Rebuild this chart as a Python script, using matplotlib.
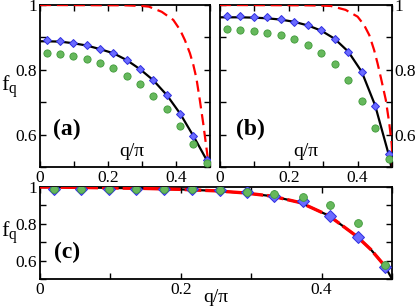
import numpy as np
import matplotlib
matplotlib.use("Agg")
import matplotlib.pyplot as plt
from matplotlib.ticker import MultipleLocator, FixedLocator, FixedFormatter

plt.rcParams['font.family'] = ['Liberation Serif', 'DejaVu Serif']
plt.rcParams['mathtext.fontset'] = 'custom'
plt.rcParams['mathtext.rm'] = 'Liberation Serif'

# ---- data ----
q_pts = [0.0196, 0.0588, 0.098, 0.137, 0.176, 0.216, 0.255, 0.294, 0.333, 0.373, 0.412, 0.451, 0.490]

# panel (a)
a_blue = [0.891, 0.889, 0.883, 0.877, 0.865, 0.852, 0.830, 0.802, 0.768, 0.722, 0.665, 0.596, 0.522]
a_green = [0.851, 0.848, 0.842, 0.833, 0.821, 0.805, 0.782, 0.755, 0.720, 0.678, 0.627, 0.572, 0.512]
a_line_q = [0.0, 0.0196, 0.0588, 0.098, 0.137, 0.176, 0.216, 0.255, 0.294, 0.333, 0.373, 0.412, 0.451, 0.490, 0.5]
a_line_f = [0.888, 0.888, 0.887, 0.882, 0.875, 0.864, 0.851, 0.830, 0.802, 0.768, 0.722, 0.665, 0.596, 0.522, 0.497]
a_red_q = [0.0, 0.25, 0.30, 0.320, 0.358, 0.392, 0.412, 0.426, 0.441, 0.451, 0.460, 0.470, 0.480, 0.489, 0.497]
a_red_f = [1.0, 0.999, 0.997, 0.995, 0.979, 0.954, 0.923, 0.892, 0.851, 0.815, 0.774, 0.707, 0.635, 0.563, 0.50]

# panel (b)
b_blue = [0.966, 0.966, 0.964, 0.962, 0.957, 0.948, 0.938, 0.922, 0.896, 0.856, 0.794, 0.688, 0.540]
b_green = [0.925, 0.923, 0.920, 0.915, 0.906, 0.895, 0.877, 0.851, 0.817, 0.769, 0.705, 0.621, 0.526]
b_line_q = [0.0, 0.0588, 0.098, 0.137, 0.176, 0.216, 0.255, 0.294, 0.333, 0.373, 0.412, 0.451, 0.490, 0.5]
b_line_f = [0.962, 0.962, 0.961, 0.959, 0.955, 0.948, 0.937, 0.921, 0.896, 0.856, 0.794, 0.690, 0.540, 0.49]
b_red_q = [0.0, 0.25, 0.30, 0.322, 0.365, 0.400, 0.419, 0.434, 0.448, 0.458, 0.468, 0.482, 0.492, 0.499, 0.503]
b_red_f = [1.0, 0.999, 0.998, 0.997, 0.985, 0.964, 0.938, 0.907, 0.861, 0.820, 0.774, 0.707, 0.635, 0.573, 0.50]

# panel (c)
c_blue = [0.990, 0.990, 0.990, 0.990, 0.990, 0.990, 0.984, 0.971, 0.953, 0.924, 0.842, 0.730, 0.564]
c_green = [0.990, 0.990, 0.990, 0.990, 0.990, 0.990, 0.984, 0.975, 0.962, 0.944, 0.902, 0.803, 0.576]
c_line_q = [0.0, 0.05, 0.10, 0.15, 0.20, 0.25, 0.29, 0.33, 0.37, 0.41, 0.45, 0.47, 0.49, 0.5]
c_line_f = [1.0, 0.998, 0.995, 0.992, 0.987, 0.979, 0.968, 0.950, 0.915, 0.845, 0.732, 0.660, 0.570, 0.50]
c_red_q = [0.0, 0.05, 0.10, 0.15, 0.20, 0.25, 0.29, 0.33, 0.37, 0.41, 0.45, 0.47, 0.49]
c_red_f = [1.0, 0.998, 0.995, 0.992, 0.987, 0.979, 0.968, 0.950, 0.915, 0.845, 0.732, 0.660, 0.570]

x_ticks = [0.0, 0.2, 0.4]
x_tick_labels = ['0', '0.2', '0.4']
y_ticks = [0.6, 0.8, 1.0]
y_tick_labels = ['0.6', '0.8', '1']

# ---- figure ----
W, H = 415, 308
fig = plt.figure(figsize=(W / 100, H / 100), dpi=100)

def rect(l, t, r, b):
    return [l / W, 1 - b / H, (r - l) / W, (b - t) / H]

ax_a = fig.add_axes(rect(40, 5, 210, 167))
ax_b = fig.add_axes(rect(220, 5, 392, 167))
ax_c = fig.add_axes(rect(40, 187, 392, 279))

BLUE_FC = '#6b6bff'
BLUE_EC = '#2f2fe0'
GREEN_FC = '#66b85c'
GREEN_EC = '#3f9a3a'
LBL = 12.5

def style(ax, right_labels=False):
    ax.set_xlim(0, 0.5)
    ax.set_ylim(0.5, 1.0)
    ax.xaxis.set_major_locator(FixedLocator(x_ticks))
    ax.xaxis.set_major_formatter(FixedFormatter(x_tick_labels))
    ax.xaxis.set_minor_locator(MultipleLocator(0.1))
    ax.yaxis.set_major_locator(FixedLocator(y_ticks))
    ax.yaxis.set_major_formatter(FixedFormatter(y_tick_labels))
    ax.yaxis.set_minor_locator(MultipleLocator(0.1))
    ax.tick_params(which='both', direction='in', top=True, right=True,
                   width=1.0, labelsize=LBL, pad=2)
    ax.tick_params(which='major', length=4.5)
    ax.tick_params(which='minor', length=4.5)
    if right_labels:
        ax.tick_params(axis='y', labelleft=False, labelright=True)
    for s in ax.spines.values():
        s.set_linewidth(1.3)

# panel (a)
ax_a.plot(a_line_q, a_line_f, color='black', lw=1.6, zorder=2)
ax_a.plot(a_red_q, a_red_f, color='#ff0000', lw=1.6, dashes=(5, 2.6), zorder=3)
ax_a.plot(q_pts, a_blue, ls='none', marker='D', ms=3.6, mfc=BLUE_FC, mec=BLUE_EC, mew=0.7, zorder=4)
ax_a.plot(q_pts, a_green, ls='none', marker='o', ms=5.2, mfc=GREEN_FC, mec=GREEN_EC, mew=0.6, zorder=4)
style(ax_a)

# panel (b)
ax_b.plot(b_line_q, b_line_f, color='black', lw=1.6, zorder=2)
ax_b.plot(b_red_q, b_red_f, color='#ff0000', lw=1.6, dashes=(5, 2.6), zorder=3)
ax_b.plot(q_pts, b_blue, ls='none', marker='D', ms=3.6, mfc=BLUE_FC, mec=BLUE_EC, mew=0.7, zorder=4)
ax_b.plot(q_pts, b_green, ls='none', marker='o', ms=5.2, mfc=GREEN_FC, mec=GREEN_EC, mew=0.6, zorder=4)
style(ax_b, right_labels=True)

# panel (c)
ax_c.plot(c_line_q, c_line_f, color='black', lw=1.6, zorder=2)
ax_c.plot(c_red_q, c_red_f, color='#ff0000', lw=2.4, dashes=(5, 1.2), zorder=3)
ax_c.plot(q_pts, c_blue, ls='none', marker='D', ms=5.8, mfc=BLUE_FC, mec=BLUE_EC, mew=0.7, zorder=4)
ax_c.plot(q_pts, c_green, ls='none', marker='o', ms=5.6, mfc=GREEN_FC, mec=GREEN_EC, mew=0.6, zorder=5)
style(ax_c)

def ftxt(x, y, s, ha='center', **kw):
    fig.text(x / W, 1 - y / H, s, ha=ha, va='center', **kw)

ftxt(67, 129, '(a)', fontsize=17, fontweight='bold')
ftxt(250, 129, '(b)', fontsize=17, fontweight='bold')
ftxt(67, 252, '(c)', fontsize=17, fontweight='bold')
ftxt(132, 152, 'q/π', fontsize=14)
ftxt(306, 152, 'q/π', fontsize=14)
ftxt(216, 298, 'q/π', fontsize=14)
ftxt(1, 87, r'$\mathrm{f}_{\mathrm{q}}$', ha='left', fontsize=16)
ftxt(1, 233, r'$\mathrm{f}_{\mathrm{q}}$', ha='left', fontsize=16)

fig.savefig('out.png', dpi=100)
